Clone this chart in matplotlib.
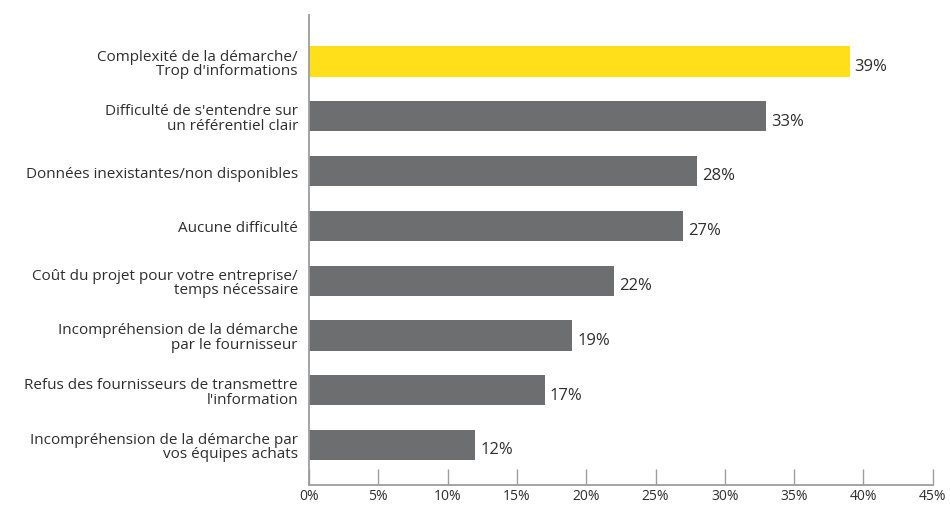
import matplotlib
matplotlib.use("Agg")
import matplotlib.pyplot as plt

plt.rcParams['font.family'] = ['Open Sans', 'DejaVu Sans']

categories = [
    "Complexité de la démarche/\nTrop d'informations",
    "Difficulté de s'entendre sur\nun référentiel clair",
    "Données inexistantes/non disponibles",
    "Aucune difficulté",
    "Coût du projet pour votre entreprise/\ntemps nécessaire",
    "Incompréhension de la démarche\npar le fournisseur",
    "Refus des fournisseurs de transmettre\nl'information",
    "Incompréhension de la démarche par\nvos équipes achats",
]
values = [39, 33, 28, 27, 22, 19, 17, 12]
xticks = [0, 5, 10, 15, 20, 25, 30, 35, 40, 45]

YELLOW = "#FFDF1A"
GREY = "#6D6E70"
AXIS = "#9D9D9F"
TEXT = "#2E2E30"

fig = plt.figure(figsize=(9.5, 5.06), dpi=100)
ax = fig.add_axes([0.3253, 0.0395, 0.6565, 0.9289])

colors = [YELLOW] + [GREY] * (len(values) - 1)
ypos = list(range(len(values)))
ax.barh(ypos, values, height=0.55, color=colors, zorder=2)

for y, v in zip(ypos, values):
    ax.text(v + 0.35, y + 0.08, f"{v}%", va="center", ha="left",
            fontsize=12, color=TEXT)

ax.set_xlim(0, 45)
ax.set_ylim(len(values) - 1 + 0.73, -0.85)

ax.set_yticks(ypos)
ax.set_yticklabels(categories, fontsize=11, color=TEXT, linespacing=0.95)
ax.tick_params(axis="y", length=0, pad=8)

ax.set_xticks(xticks)
ax.set_xticklabels([f"{t}%" for t in xticks], fontsize=10, color=TEXT)
ax.tick_params(axis="x", direction="in", length=11.5, width=1.0,
               color=AXIS, pad=2.5)

for side in ("top", "right"):
    ax.spines[side].set_visible(False)
for side in ("left", "bottom"):
    ax.spines[side].set_color(AXIS)
    ax.spines[side].set_linewidth(1.3)

fig.savefig("out.png", dpi=100)
